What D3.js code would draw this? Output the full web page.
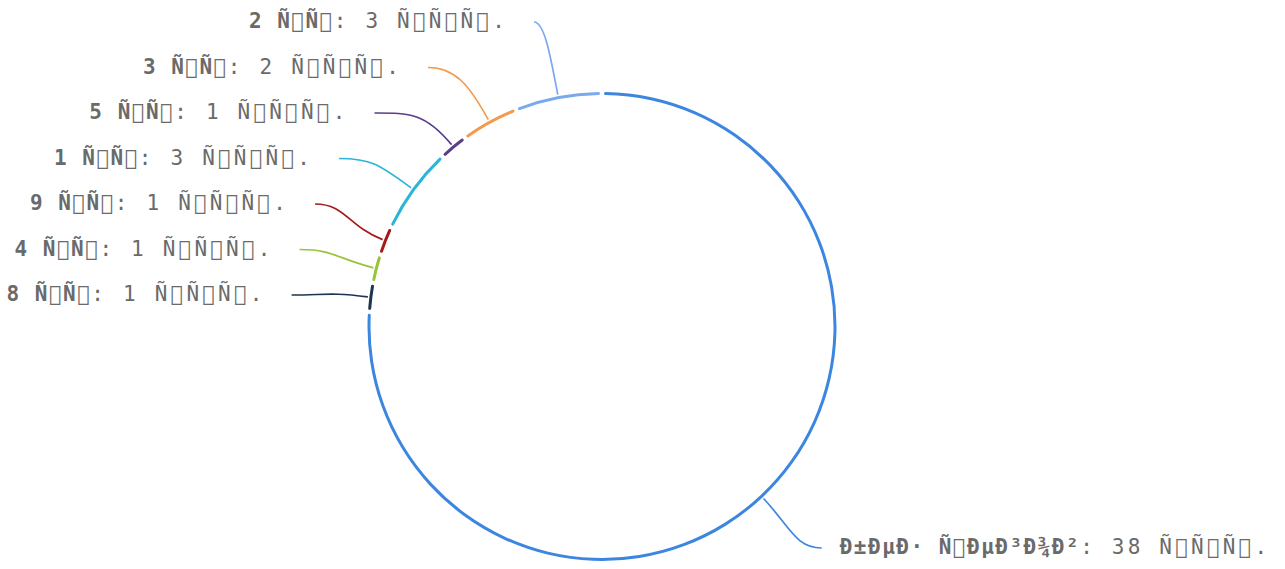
<!DOCTYPE html>
<html>
<head>
<meta charset="utf-8">
<script src="https://cdn.jsdelivr.net/npm/d3@7"></script>
<style>
  html, body { margin: 0; padding: 0; background: #fff; }
  text { font-family: "DejaVu Sans Mono", monospace; font-size: 21px; fill: #6a6a6a; }
</style>
</head>
<body>
<div id="chart"></div>
<script>
// names come in as utf-8 read as latin-1, keep them that way
const categories = [
  '\u00d0\u00b1\u00d0\u00b5\u00d0\u00b7 \u00d1\u0082\u00d0\u00b5\u00d0\u00b3\u00d0\u00be\u00d0\u00b2',
  '8 \u00d1\u0088\u00d1\u0082',
  '4 \u00d1\u0088\u00d1\u0082',
  '9 \u00d1\u0088\u00d1\u0082',
  '1 \u00d1\u0088\u00d1\u0082',
  '5 \u00d1\u0088\u00d1\u0082',
  '3 \u00d1\u0088\u00d1\u0082',
  '2 \u00d1\u0088\u00d1\u0082'
]
const values = [38, 1, 1, 1, 3, 1, 2, 3]
const unit = '\u00d1\u0081\u00d1\u0082\u00d1\u0080.'
const colors = ['#3d86e0', '#1e3550', '#97c43a', '#a31b1b', '#2bb5d8', '#5a3d8c', '#f39a4c', '#7aa9ee']

const width = 1285
const height = 569
const cx = 602
const cy = 326.5
const radius = 233
const labelR = 312
const lineGap = 45.5

// control chars have no glyph; the reference shows the font's empty box there
const shown = s => s.replace(/[\u0080-\u009f]/g, '\ue000')

const svg = d3.select('#chart')
  .append('svg')
  .attr('width', width)
  .attr('height', height)

const color = d3.scaleOrdinal(categories, colors)

const pie = d3.pie().sort(null).value((d, i) => values[i])
const arcs = pie(categories)

const arc = d3.arc()
  .innerRadius(radius - 1.5)
  .outerRadius(radius + 1.5)
  .padAngle(0.012)
  .cornerRadius(1.5)

const g = svg.append('g').attr('transform', `translate(${cx},${cy})`)

g.selectAll('path.slice')
  .data(arcs)
  .enter().append('path')
  .attr('class', 'slice')
  .attr('d', arc)
  .attr('fill', d => color(d.data))

// label layout: natural y on labelR circle, then spread with fixed gap
const labels = arcs.map((d, i) => {
  const a = (d.startAngle + d.endAngle) / 2
  return {
    name: d.data,
    value: values[i],
    angle: a,
    left: a > Math.PI,
    y: -labelR * Math.cos(a)
  }
})

function spread (list, minY, maxY) {
  list.sort((a, b) => a.y - b.y)
  // pool adjacent violators on y - i*gap
  const blocks = []
  list.forEach((l, i) => {
    blocks.push({ sum: l.y - i * lineGap, n: 1 })
    while (blocks.length > 1) {
      const b = blocks[blocks.length - 1]
      const p = blocks[blocks.length - 2]
      if (p.sum / p.n <= b.sum / b.n) break
      p.sum += b.sum
      p.n += b.n
      blocks.pop()
    }
  })
  let i = 0
  blocks.forEach(b => {
    for (let k = 0; k < b.n; k++, i++) {
      const z = Math.max(b.sum / b.n, minY)
      list[i].y = Math.min(z + i * lineGap, maxY)
    }
  })
}

spread(labels.filter(l => l.left), 22 - cy, height - 21 - cy)
spread(labels.filter(l => !l.left), 22 - cy, height - 21 - cy)

labels.forEach(l => {
  const dx = Math.sqrt(Math.max(labelR * labelR - l.y * l.y, 0))
  l.x = l.left ? -dx : dx
})

g.selectAll('path.link')
  .data(labels)
  .enter().append('path')
  .attr('class', 'link')
  .attr('fill', 'none')
  .attr('stroke', d => color(d.name))
  .attr('stroke-width', 1.7)
  .attr('d', d => {
    const r0 = radius + 3
    const x0 = r0 * Math.sin(d.angle)
    const y0 = -r0 * Math.cos(d.angle)
    const dist = Math.hypot(d.x - x0, d.y - y0)
    const p = d3.path()
    p.moveTo(x0, y0)
    p.bezierCurveTo(
      x0 + Math.sin(d.angle) * dist * 0.5,
      y0 - Math.cos(d.angle) * dist * 0.5,
      d.x + (d.left ? 1 : -1) * Math.abs(d.x - x0) * 0.45,
      d.y,
      d.x, d.y)
    return p.toString()
  })

const text = g.selectAll('text.label')
  .data(labels)
  .enter().append('text')
  .attr('class', 'label')
  .attr('x', d => d.left ? d.x - 26 : d.x + 18)
  .attr('y', d => d.y - 1)
  .attr('dominant-baseline', 'central')
  .attr('text-anchor', d => d.left ? 'end' : 'start')
  .attr('xml:space', 'preserve')

text.append('tspan')
  .attr('font-weight', 'bold')
  .attr('letter-spacing', 1.5)
  .text(d => shown(d.name))

text.append('tspan')
  .attr('letter-spacing', 3.2)
  .text(d => shown(`: ${d.value} ${unit}`))
</script>
</body>
</html>
